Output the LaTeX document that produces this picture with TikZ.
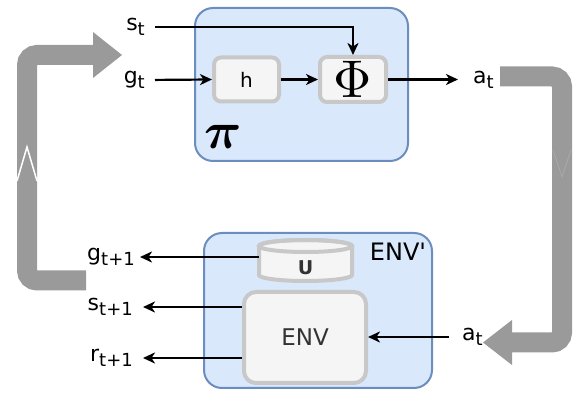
\documentclass[tikz,border=0pt]{standalone}
\usepackage[no-math]{fontspec}
\setmainfont{DejaVu Sans}[Ligatures=TeXOff]
\usepackage{bm}
\usetikzlibrary{arrows.meta}
\definecolor{boxfill}{HTML}{DAE8FC}
\definecolor{boxline}{HTML}{6C8EBF}
\definecolor{infill}{HTML}{F5F5F5}
\definecolor{inline}{HTML}{C8C8C8}
\definecolor{flow}{HTML}{9A9A9A}
\definecolor{darktext}{HTML}{333333}
\newcommand{\lbl}[2]{#1\raisebox{-5pt}{\fontsize{18}{18}\selectfont #2}}
\begin{document}
\begin{tikzpicture}[x=1pt,y=-1pt,
  outerbox/.style={draw=boxline, fill=boxfill, line width=2pt, rounded corners=18pt},
  innerbox/.style={draw=inline, fill=infill, line width=4pt, rounded corners=7pt},
  lab/.style={inner sep=0pt, font=\fontsize{22}{22}\selectfont},
  arr/.style={line width=2.2pt, -{Stealth[length=12pt,width=11pt,inset=3.5pt]}},
  flowline/.style={draw=flow, line width=20pt, rounded corners=10pt},
  flowhead/.style={fill=flow, draw=none}]
\useasboundingbox (0,0) rectangle (576,395);

% feedback loops (grey flex arrows)
\coordinate (la) at (86,280.5);
\coordinate (lb) at (27,280.5);
\coordinate (lc) at (27,55);
\coordinate (ld) at (94,55);
\draw[flowline] (la) -- (lb) -- (lc) -- (ld);
\fill[flowhead] (93,32) -- (122,55) -- (93,78) -- cycle;
\draw[white, line width=1.5pt] (17,181) -- (27,147) -- (37,181);

\coordinate (ra) at (500,76.5);
\coordinate (rb) at (562,76.5);
\coordinate (rc) at (562,342.5);
\coordinate (rd) at (511,342.5);
\draw[flowline] (ra) -- (rb) -- (rc) -- (rd);
\fill[flowhead] (512,320) -- (483,342.5) -- (512,365) -- cycle;
\draw[flow!85!white, line width=0.8pt] (553,150) -- (562,177) -- (571,150);

% policy box
\node[outerbox, minimum width=213pt, minimum height=153pt] (pi) at (301.5,84.5) {};
\node[innerbox, minimum width=65pt, minimum height=44pt, font=\fontsize{20}{20}\selectfont] (h) at (246.5,79.5) {h};
\node[innerbox, minimum width=66pt, minimum height=45pt, inner sep=0pt] (phi) at (353,79.5) {\scalebox{5.3}{$\Phi$}};
\node[inner sep=0pt] (pilabel) at (223,137) {\scalebox{5.2}{$\bm{\pi}$}};

\node[lab, anchor=east] (st) at (145,27) {\lbl{s}{t}};
\node[lab, anchor=east] (gt) at (145,80) {\lbl{g}{t}};
\node[lab, anchor=west] (at) at (473,80) {\lbl{a}{t}};
\draw[arr, shorten <=10pt] (st.east) -| (phi.north);
\draw[arr, shorten <=10pt] (gt.east) -- (h.west);
\draw[arr] (h.east) -- (phi.west);
\draw[arr, shorten >=15pt] (phi.east) -- (phi.east -| at.west);

% environment box
\node[outerbox, minimum width=228pt, minimum height=155pt] (envp) at (318,310.5) {};
\node[lab, font=\fontsize{24}{24}\selectfont] (envplabel) at (398,252) {ENV'};
\node[innerbox, rounded corners=12pt, minimum width=122pt, minimum height=91pt, font=\fontsize{23}{23}\selectfont, text=darktext] (env) at (305,337.5) {ENV};

\node[minimum width=93pt, minimum height=41pt, inner sep=0pt] (cyl) at (305.5,260.5) {};
\draw[draw=inline, fill=infill, line width=4pt] (259,246) -- (259,275)
  arc[start angle=180, end angle=0, x radius=46.5, y radius=6] -- (352,246)
  arc[start angle=0, end angle=-180, x radius=46.5, y radius=6] -- cycle;
\draw[draw=inline, line width=4pt] (305.5,246) ellipse[x radius=46.5, y radius=6];
\node[inner sep=0pt, font=\bfseries\fontsize{19}{19}\selectfont, text=darktext] (U) at (305.5,268) {U};

\node[lab, anchor=east] (g1) at (135,257) {\lbl{g}{t+1}};
\node[lab, anchor=east] (s1) at (133,307) {\lbl{s}{t+1}};
\node[lab, anchor=east] (r1) at (133,358) {\lbl{r}{t+1}};
\node[lab, anchor=west] (at2) at (462,337) {\lbl{a}{t}};
\draw[arr, shorten >=5pt] (cyl.west |- g1.east) -- (g1.east);
\draw[arr, shorten >=10pt] (env.west |- s1.east) -- (s1.east);
\draw[arr, shorten >=10pt] (env.west |- r1.east) -- (r1.east);
\draw[arr, shorten <=13pt] (at2.west) -- (at2.west -| env.east);
\end{tikzpicture}
\end{document}
